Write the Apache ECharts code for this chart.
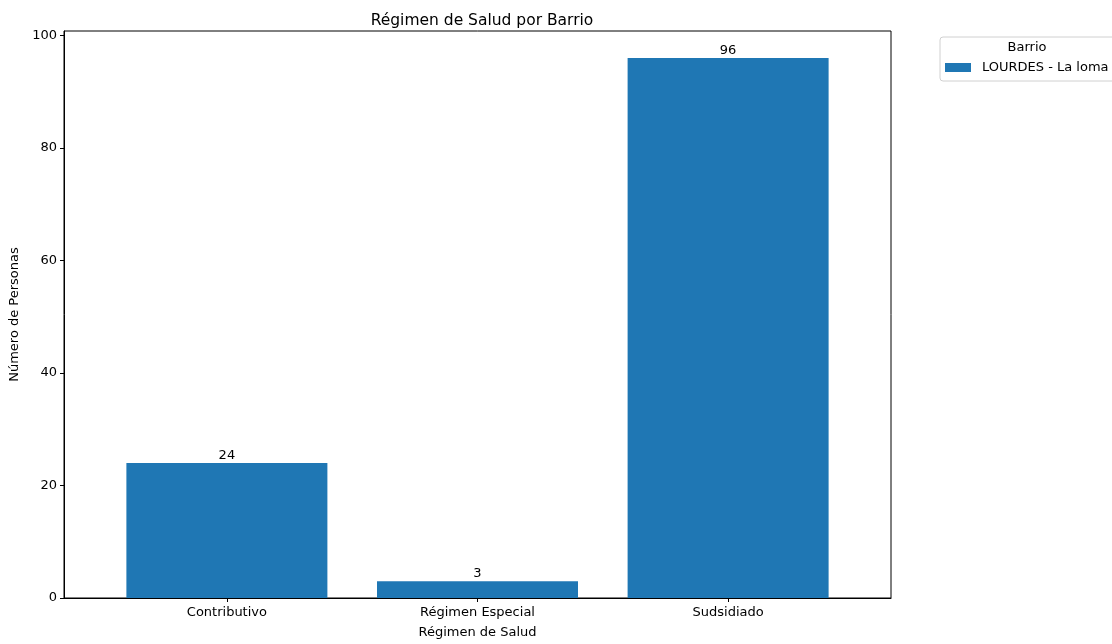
<!DOCTYPE html>
<html>
<head>
<meta charset="utf-8">
<script src="https://cdn.jsdelivr.net/npm/echarts@6/dist/echarts.min.js"></script>
<style>html,body{margin:0;padding:0;background:#fff;}#c{width:1112px;height:644px;}</style>
</head>
<body>
<div id="c"></div>
<script>
const categories = ['Contributivo', 'Régimen Especial', 'Sudsidiado'];
const values = [24, 3, 96];
const seriesName = 'LOURDES - La loma';
const yTicks = [0, 20, 40, 60, 80, 100];

const FONT = 'DejaVu Sans';
const chart = echarts.init(document.getElementById('c'), null, {renderer: 'canvas'});
chart.setOption({
  animation: false,
  textStyle: {fontFamily: FONT},
  title: [
    {text: 'Régimen de Salud por Barrio', left: 477, top: 8, textAlign: 'center',
     textStyle: {fontFamily: FONT, fontSize: 15.5, fontWeight: 'normal', color: '#000'}},
    {text: 'Barrio', left: 1027, top: 41, textAlign: 'center', padding: 0,
     textStyle: {fontFamily: FONT, fontSize: 13, fontWeight: 'normal', color: '#000'}}
  ],
  legend: {
    left: 940, top: 37, orient: 'vertical',
    padding: [24, 8, 7, 5],
    borderColor: '#d0d0d0', borderWidth: 1, borderRadius: 3,
    itemWidth: 26, itemHeight: 9, itemGap: 5,
    textStyle: {fontFamily: FONT, fontSize: 13, color: '#000', padding: [0, 0, 0, 6]},
    data: [{name: seriesName, icon: 'rect'}]
  },
  grid: {left: 64, right: 221, top: 31, bottom: 42, show: true, borderColor: '#000', borderWidth: 1, backgroundColor: 'transparent'},
  xAxis: {
    type: 'value', min: -0.65, max: 2.65,
    name: 'Régimen de Salud', nameLocation: 'middle', nameGap: 28,
    nameTextStyle: {fontFamily: FONT, fontSize: 13, color: '#000'},
    splitLine: {show: false},
    axisLine: {show: true, onZero: false, lineStyle: {color: '#000', width: 1}},
    axisTick: {show: true, length: 4, lineStyle: {color: '#000'}, customValues: categories.map((c, i) => i)},
    axisLabel: {fontFamily: FONT, fontSize: 13, color: '#000', margin: 8,
      customValues: categories.map((c, i) => i),
      formatter: v => categories[Math.round(v)] || ''}
  },
  yAxis: {
    type: 'value', min: 0, max: 100.8,
    name: 'Número de Personas', nameLocation: 'middle', nameGap: 39,
    nameTextStyle: {fontFamily: FONT, fontSize: 13, color: '#000'},
    splitLine: {show: false},
    axisLine: {show: true, onZero: false, lineStyle: {color: '#000', width: 1}},
    axisTick: {show: true, length: 4, lineStyle: {color: '#000'}, customValues: yTicks},
    axisLabel: {fontFamily: FONT, fontSize: 13, color: '#000', margin: 7, customValues: yTicks}
  },
  series: [{
    name: seriesName, type: 'bar', barWidth: 201,
    itemStyle: {color: '#1f77b4'},
    label: {show: true, position: 'top', distance: 1, fontFamily: FONT, fontSize: 13, color: '#000'},
    data: values.map((v, i) => [i, v])
  }]
});
</script>
</body>
</html>
